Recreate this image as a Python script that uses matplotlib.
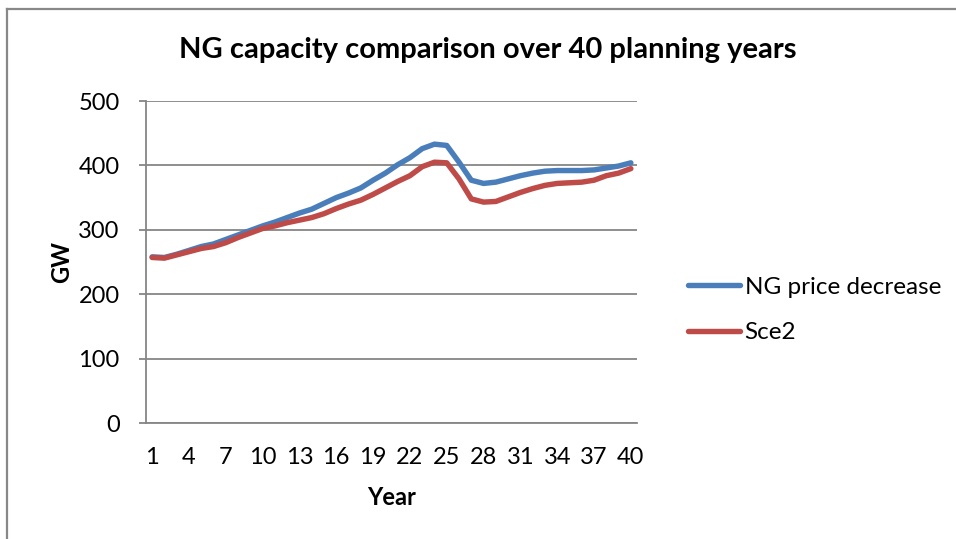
import matplotlib
matplotlib.use("Agg")
import matplotlib.pyplot as plt
from matplotlib.lines import Line2D

plt.rcParams['font.family'] = ['Lato', 'DejaVu Sans']

years = list(range(1, 41))
ng_price_decrease = [258, 257, 262, 268, 274, 278, 285, 292, 299, 306,
                     312, 319, 326, 332, 341, 350, 357, 365, 377, 388,
                     401, 412, 426, 433, 431, 405, 377, 372, 374, 379,
                     384, 388, 391, 392, 392, 392, 393, 396, 399, 404]
sce2 = [257, 256, 261, 266, 271, 274, 280, 288, 295, 302,
        306, 311, 315, 319, 325, 333, 340, 346, 355, 365,
        375, 384, 398, 405, 404, 379, 348, 343, 344, 351,
        358, 364, 369, 372, 373, 374, 377, 384, 388, 395]
y_ticks = [0, 100, 200, 300, 400, 500]
x_tick_years = list(range(1, 41, 3))

W, H = 956, 539
fig = plt.figure(figsize=(W / 100, H / 100), dpi=100)
ax = fig.add_axes([146 / W, 1 - 423 / H, (637 - 146) / W, (423 - 101) / H])

blue = '#4A7EBB'
red = '#BE4B48'
grid_c = '#868686'
fs = 17

ax.plot(years, ng_price_decrease, color=blue, lw=3.9, solid_capstyle='round',
        solid_joinstyle='round', label='NG price decrease', zorder=3)
ax.plot(years, sce2, color=red, lw=3.9, solid_capstyle='round',
        solid_joinstyle='round', label='Sce2', zorder=4)

ax.set_xlim(0.5, 40.5)
ax.set_ylim(0, 500)
ax.set_yticks(y_ticks)
ax.set_xticks(x_tick_years)
ax.yaxis.grid(True, color=grid_c, lw=1.3)
ax.set_axisbelow(True)
for s in ['top', 'right']:
    ax.spines[s].set_visible(False)
for s in ['left', 'bottom']:
    ax.spines[s].set_color(grid_c)
    ax.spines[s].set_linewidth(1.3)
ax.tick_params(axis='y', length=5, width=1.3, color=grid_c, labelsize=fs, pad=14)
ax.tick_params(axis='x', length=0, labelsize=fs, pad=17)

ax.set_xlabel('Year', fontsize=fs, fontweight='bold', labelpad=13)
ax.set_ylabel('GW', fontsize=fs, fontweight='bold', labelpad=4)
fig.text(488 / W, 1 - 50 / H, 'NG capacity comparison over 40 planning years',
         ha='center', va='center', fontsize=21, fontweight='bold')

leg = fig.legend(loc='center left', bbox_to_anchor=(666 / W, 1 - 310 / H),
                 frameon=False, fontsize=17.5, handlelength=2.15,
                 handletextpad=0.18, labelspacing=1.0)
for h in leg.legend_handles:
    h.set_linewidth(3.9)

# outer chart frame
fig.add_artist(Line2D([7 / W, 7 / W], [0, 1 - 9 / H], color='#888888', lw=1.6,
                      transform=fig.transFigure))
fig.add_artist(Line2D([7 / W, 1], [1 - 9 / H, 1 - 9 / H], color='#888888', lw=1.6,
                      transform=fig.transFigure))

fig.savefig('out.png', dpi=100)
